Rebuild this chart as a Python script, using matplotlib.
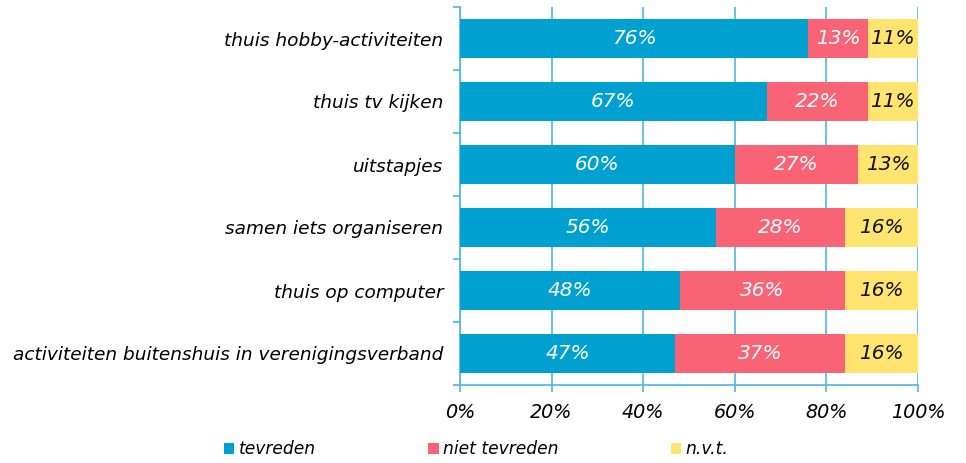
import matplotlib.pyplot as plt
from matplotlib.patches import Patch

categories = [
    "thuis hobby-activiteiten",
    "thuis tv kijken",
    "uitstapjes",
    "samen iets organiseren",
    "thuis op computer",
    "activiteiten buitenshuis in verenigingsverband",
]
tevreden = [76, 67, 60, 56, 48, 47]
niet_tevreden = [13, 22, 27, 28, 36, 37]
nvt = [11, 11, 13, 16, 16, 16]
series_names = ["tevreden", "niet tevreden", "n.v.t."]
xticks = [0, 20, 40, 60, 80, 100]

colors = ["#00A1D1", "#F86476", "#FFE56F"]
text_colors = ["white", "white", "#111111"]
axis_color = "#4DB8E0"

plt.rcParams['font.family'] = ['DejaVu Sans']
plt.rcParams['font.style'] = 'italic'

fig = plt.figure(figsize=(9.66, 4.63), dpi=100)
ax = fig.add_axes([460 / 966, 78 / 463, 458 / 966, 378 / 463])

ypos = list(range(len(categories)))
left = [0] * len(categories)
for vals, col, tcol in zip([tevreden, niet_tevreden, nvt], colors, text_colors):
    ax.barh(ypos, vals, left=left, height=0.61, color=col, zorder=3)
    for y, v, l in zip(ypos, vals, left):
        ax.text(l + v / 2, y, f"{v}%", ha="center", va="center",
                color=tcol, fontsize=14.5, style="italic", zorder=4)
    left = [a + b for a, b in zip(left, vals)]

ax.set_xlim(0, 100)
ax.set_ylim(len(categories) - 0.5, -0.5)
ax.set_xticks(xticks)
ax.set_xticklabels([f"{t}%" for t in xticks], fontsize=13.8)
ax.set_yticks(ypos)
ax.set_yticklabels(categories, fontsize=13.3)
ax.set_yticks([i - 0.5 for i in range(len(categories) + 1)], minor=True)

ax.tick_params(axis="y", which="major", length=0, pad=12)
ax.tick_params(axis="y", which="minor", length=5, color=axis_color, width=1.2)
ax.tick_params(axis="x", length=5, color=axis_color, width=1.2, pad=8)
ax.xaxis.grid(True, color=axis_color, linewidth=1.2, zorder=0)

for s in ["top", "right"]:
    ax.spines[s].set_visible(False)
for s in ["left", "bottom"]:
    ax.spines[s].set_color(axis_color)
    ax.spines[s].set_linewidth(1.2)

handles = [Patch(facecolor=c, edgecolor="none") for c in colors]
fig.legend(handles, series_names, loc="center", bbox_to_anchor=(0.493, 0.03),
           ncol=3, frameon=False, fontsize=12.3, handlelength=0.6,
           handleheight=0.6, handletextpad=0.25, columnspacing=6.6)

plt.savefig("out.png", dpi=100)
